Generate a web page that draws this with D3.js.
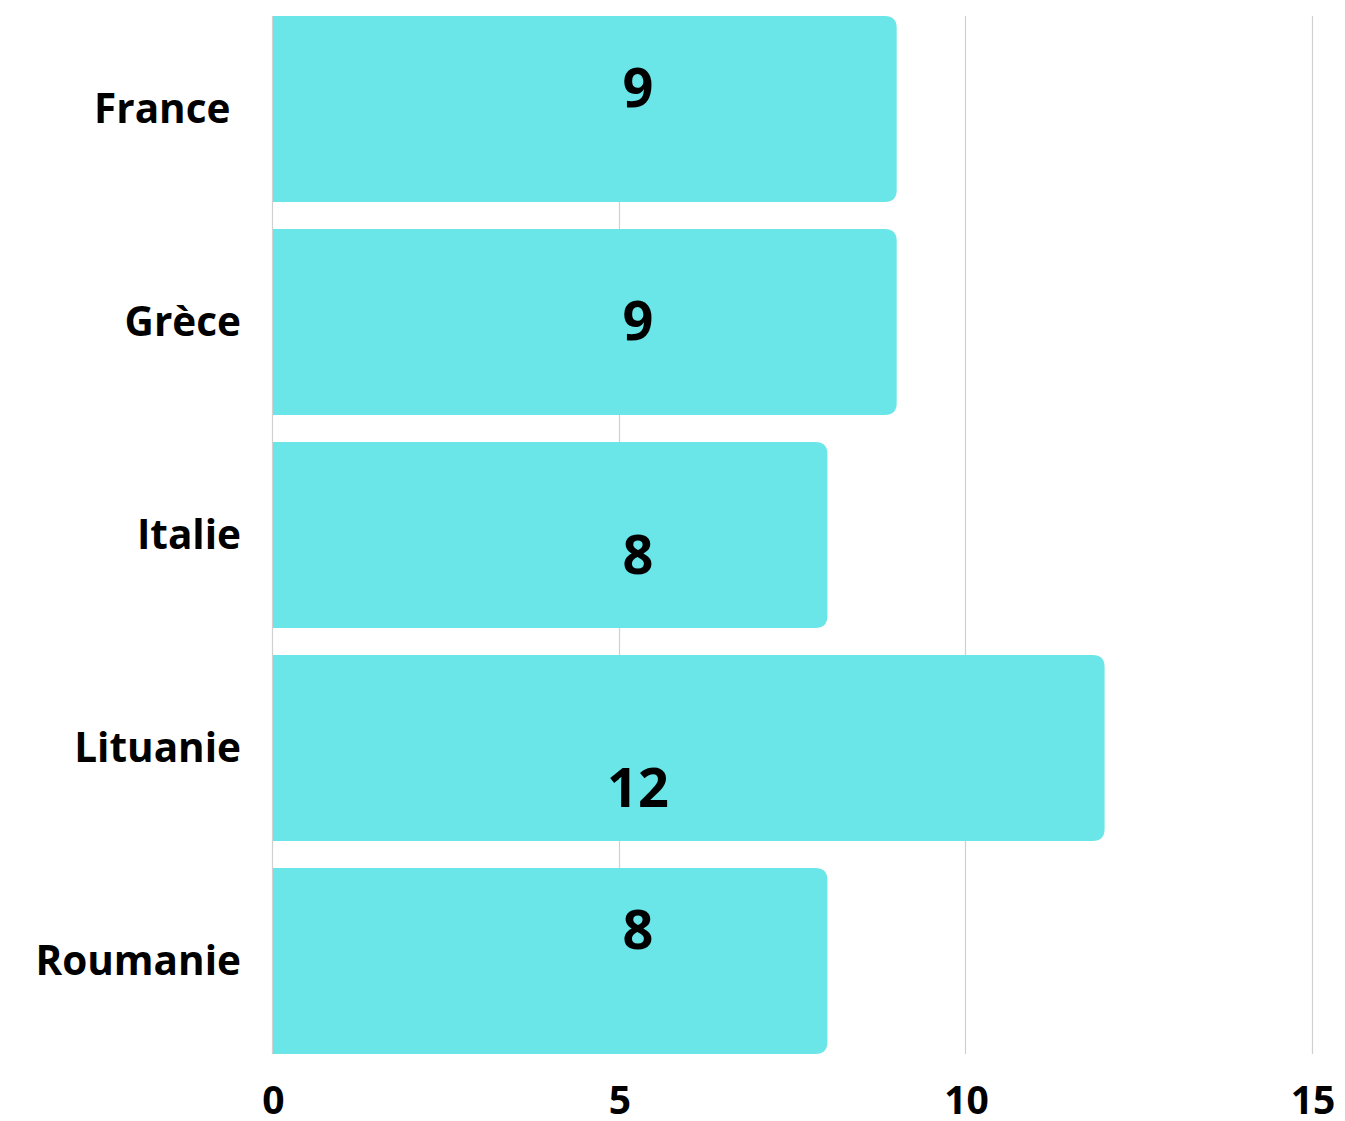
<!DOCTYPE html>
<html>
<head>
<meta charset="utf-8">
<script src="https://cdn.jsdelivr.net/npm/d3@7"></script>
<style>
  html, body { margin: 0; padding: 0; background: #fff; }
  svg { display: block; font-family: "Open Sans", sans-serif; }
</style>
</head>
<body>
<svg id="chart" width="1345" height="1121"></svg>
<script>
const categories = ["France ", "Grèce", "Italie", "Lituanie", "Roumanie"];
const values = [9, 9, 8, 12, 8];
const tickValues = [0, 5, 10, 15];
const labelOffsets = [-21, -1, 20, 40, -31];

const svg = d3.select("#chart");
const x = d3.scaleLinear().domain([0, 15]).range([273, 1312.5]);
const y = d3.scaleBand().domain(categories).range([16, 1054]).paddingInner(27 / 213).paddingOuter(0);

// gridlines
svg.append("g").selectAll("line").data(tickValues).join("line")
  .attr("x1", d => Math.round(x(d)) - 0.5).attr("x2", d => Math.round(x(d)) - 0.5)
  .attr("y1", 16).attr("y2", 1054)
  .attr("stroke", "#d0d0d0").attr("stroke-width", 1.2);

// bars with rounded right corners
const r = 12;
svg.append("g").selectAll("path").data(values).join("path")
  .attr("fill", "#6ae5e8")
  .attr("d", (d, i) => {
    const x0 = x(0), x1 = x(d), y0 = y(categories[i]), h = y.bandwidth();
    return `M${x0},${y0} H${x1 - r} Q${x1},${y0} ${x1},${y0 + r} V${y0 + h - r} Q${x1},${y0 + h} ${x1 - r},${y0 + h} H${x0} Z`;
  });

// value labels
svg.append("g").selectAll("text").data(values).join("text")
  .attr("x", 638)
  .attr("y", (d, i) => y(categories[i]) + y.bandwidth() / 2 + labelOffsets[i])
  .attr("dy", "0.35em")
  .attr("text-anchor", "middle")
  .attr("font-size", 54).attr("font-weight", 700).attr("fill", "#000")
  .text(d => d);

// category labels
svg.append("g").selectAll("text").data(categories).join("text")
  .attr("x", 241)
  .attr("y", d => y(d) + y.bandwidth() / 2)
  .attr("dy", "0.35em")
  .attr("text-anchor", "end")
  .attr("font-size", 40.5).attr("font-weight", 700).attr("fill", "#000")
  .style("white-space", "pre")
  .text(d => d);

// x-axis tick labels
const xAxis = d3.axisBottom(x).tickValues(tickValues).tickSize(0).tickPadding(0);
const gx = svg.append("g").attr("transform", "translate(0,1086)").call(xAxis);
gx.select(".domain").remove();
gx.selectAll("text")
  .attr("dy", "0.71em")
  .attr("font-family", "Open Sans, sans-serif")
  .attr("font-size", 39).attr("font-weight", 700).attr("fill", "#000");
</script>
</body>
</html>
